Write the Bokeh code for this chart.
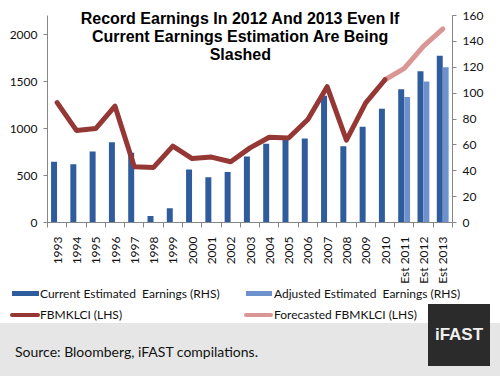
from math import pi
from bokeh.plotting import figure
from bokeh.models import Range1d, LinearAxis, FixedTicker, Div
from bokeh.layouts import column
from bokeh.core.properties import value
from bokeh.embed import file_html
from bokeh.resources import INLINE

# ---------------- data ----------------
years = ["1993", "1994", "1995", "1996", "1997", "1998", "1999", "2000", "2001",
         "2002", "2003", "2004", "2005", "2006", "2007", "2008", "2009", "2010",
         "Est 2011", "Est 2012", "Est 2013"]
current_earnings = [47, 45, 55, 62, 54, 5, 11, 41, 35, 39, 51, 61, 64, 65, 98, 59,
                    74, 88, 103, 117, 129]
adjusted_years = ["Est 2011", "Est 2012", "Est 2013"]
adjusted_earnings = [97, 109, 120]
klci_years = years[:18]
klci = [1275, 980, 1000, 1237, 594, 586, 812, 680, 696, 646, 794, 907, 899, 1096,
        1445, 877, 1273, 1519]
forecast_years = ["2010", "Est 2011", "Est 2012", "Est 2013"]
forecast_klci = [1519, 1640, 1877, 2060]
lhs_ticks = [0, 500, 1000, 1500, 2000]
rhs_ticks = [0, 20, 40, 60, 80, 100, 120, 140, 160]
title_lines = ["Record Earnings In 2012 And 2013 Even If",
               "Current Earnings Estimation Are Being",
               "Slashed"]
legend_labels = ["Current Estimated  Earnings (RHS)", "Adjusted Estimated  Earnings (RHS)",
                 "FBMKLCI (LHS)", "Forecasted FBMKLCI (LHS)"]
source_text = "Source: Bloomberg, iFAST compilations."
logo_text = "iFAST"

idx = {y: i for i, y in enumerate(years)}

# ---------------- colours ----------------
AXIS = "#868686"
BAR1 = "#2f5c9c"
BAR2 = "#6d91cd"
RED = "#953735"
PINK = "#d99694"
FONT = "Lato"

p = figure(width=500, height=286, output_backend="svg", toolbar_location=None,
           x_range=Range1d(-0.5, len(years) - 0.5), y_range=Range1d(0, 2362),
           min_border_left=47, min_border_right=48, min_border_top=0,
           min_border_bottom=62, x_axis_type=None, y_axis_type=None)
p.extra_y_ranges = {"rhs": Range1d(0, 171.7)}
p.outline_line_color = None
p.xgrid.visible = False
p.ygrid.visible = False
p.background_fill_color = "white"
p.border_fill_color = "white"
p.title.visible = False

# bars (RHS)
p.vbar(x=[idx[y] - 0.16 for y in years], top=current_earnings, width=0.31,
       bottom=0, fill_color=BAR1, line_color=None, y_range_name="rhs")
p.vbar(x=[idx[y] + 0.15 for y in adjusted_years], top=adjusted_earnings,
       width=0.3, bottom=0, fill_color=BAR2, line_color=None, y_range_name="rhs")

# lines (LHS)
p.line(x=[idx[y] for y in forecast_years], y=forecast_klci, line_color=PINK,
       line_width=5, line_join="round", line_cap="round")
p.line(x=[idx[y] for y in klci_years], y=klci, line_color=RED, line_width=5,
       line_join="round", line_cap="round")

# axes
def style_axis(ax):
    ax.axis_line_color = AXIS
    ax.major_tick_line_color = AXIS
    ax.major_tick_in = 0
    ax.major_tick_out = 4
    ax.minor_tick_line_color = None
    ax.major_label_text_font = FONT
    ax.major_label_text_font_size = "12px"
    ax.major_label_text_color = "#111111"
    ax.major_label_standoff = 6

left = LinearAxis(ticker=FixedTicker(ticks=lhs_ticks), bounds=(0, 2200))
style_axis(left)
p.add_layout(left, "left")

right = LinearAxis(y_range_name="rhs", ticker=FixedTicker(ticks=rhs_ticks),
                   bounds=(0, 160))
style_axis(right)
p.add_layout(right, "right")

centers = list(range(len(years)))
bounds = [i - 0.5 for i in range(len(years) + 1)]
bottom = LinearAxis(ticker=FixedTicker(ticks=centers, minor_ticks=bounds))
style_axis(bottom)
bottom.major_tick_line_color = None
bottom.minor_tick_line_color = AXIS
bottom.minor_tick_in = 0
bottom.minor_tick_out = 5
bottom.major_label_overrides = {i: y for i, y in enumerate(years)}
bottom.major_label_orientation = pi / 2
bottom.major_label_standoff = 9
p.add_layout(bottom, "below")

# title (three centred lines, inside the frame's top area)
p.text(x=[9.5, 9.5, 9.5], y=[2172, 1982, 1792], text=title_lines,
       text_align="center", text_baseline="middle",
       text_font=value("Liberation Sans"), text_font_style="bold",
       text_font_size=value("16px"), text_color="black")

# ---------------- bottom strip: legend, source, logo ----------------
def swatch(left, top, w, h, color, radius=0):
    return (f'<div style="position:absolute;left:{left}px;top:{top}px;width:{w}px;'
            f'height:{h}px;background:{color};border-radius:{radius}px"></div>')

def label(left, center, txt, size):
    lh = size + 4
    return (f'<div style="position:absolute;left:{left}px;top:{center - lh / 2}px;'
            f'font-family:{FONT};font-size:{size}px;line-height:{lh}px;'
            f'white-space:pre;color:#111">{txt}</div>')

html = ('<div style="position:relative;width:500px;height:90px;background:#fff;'
        'overflow:visible">')
html += ('<div style="position:absolute;left:0;top:37px;width:500px;height:53px;'
         'background:#e6e6e6"></div>')
html += swatch(12, 5, 27, 5, BAR1)
html += label(40, 7.5, legend_labels[0], 12)
html += swatch(246, 5, 26, 5, BAR2)
html += label(274, 7.5, legend_labels[1], 12)
html += swatch(10, 27, 30, 4, RED, 2)
html += label(40, 29, legend_labels[2], 12)
html += swatch(244, 27, 29, 4, PINK, 2)
html += label(274, 29, legend_labels[3], 12)
html += label(15, 66, source_text, 14)
html += ('<div style="position:absolute;left:428px;top:18px;width:62px;height:62px;'
         'background:#2b2b2b;color:#f0f0f0;font-family:\'Liberation Sans\';'
         'font-weight:bold;font-size:17px;line-height:62px;text-align:center">'
         f'{logo_text}</div>')
html += '</div>'

strip = Div(text=html, width=500, height=90, margin=(0, 0, 0, 0))

layout = column(p, strip, spacing=0)
open("out.html", "w").write(file_html(layout, INLINE))
